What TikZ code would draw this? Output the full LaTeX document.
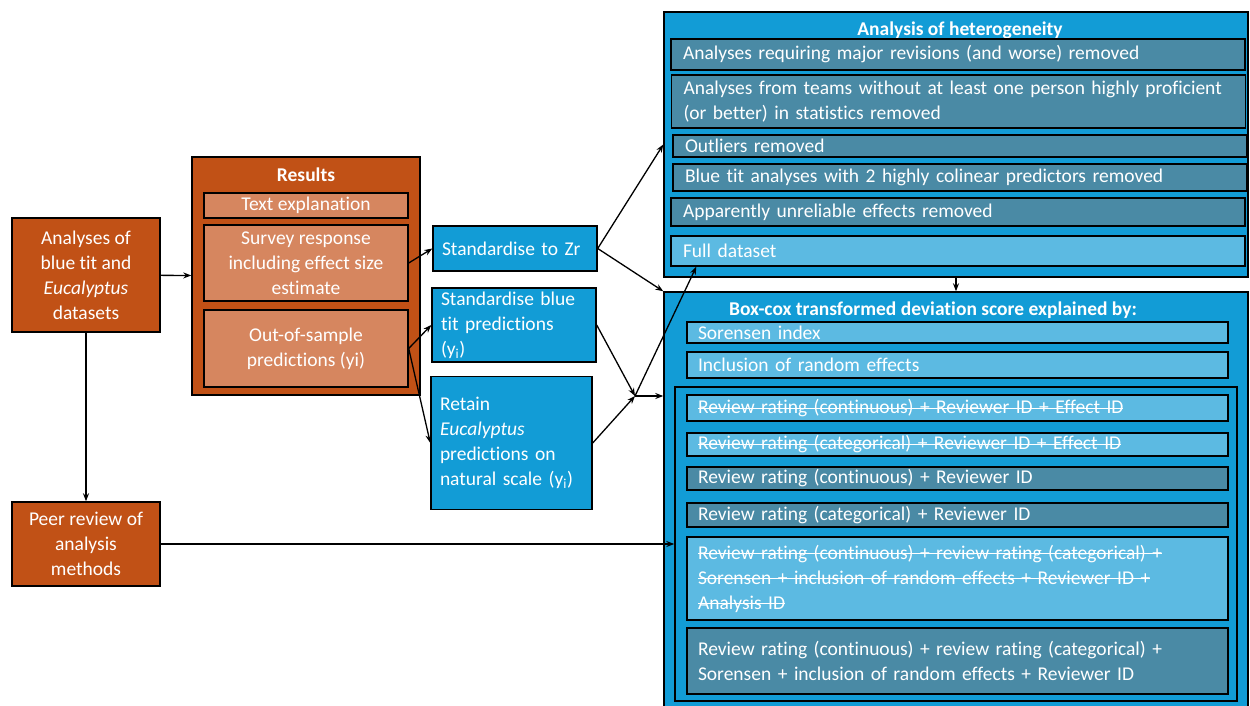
\documentclass[tikz,border=0pt]{standalone}
\usepackage{fontspec}
\setmainfont{Carlito}[Ligatures=NoCommon]
\usetikzlibrary{arrows.meta}
\newsavebox\strikebox
\newcommand{\strikeout}[1]{\sbox\strikebox{#1}\mbox{\rlap{\usebox\strikebox}\rule[0.24em]{\wd\strikebox}{1.1pt}}}
\definecolor{rust}{RGB}{193,81,22}
\definecolor{rustlight}{RGB}{214,134,95}
\definecolor{skyblue}{RGB}{18,156,214}
\definecolor{tealrow}{RGB}{74,138,165}
\definecolor{lightrow}{RGB}{92,186,226}
\tikzset{
  base/.style={draw=black, line width=1.4pt, inner sep=0pt, text=white, font=\fontsize{19.5}{25}\selectfont},
  orangebox/.style={base, fill=rust, align=center},
  resrow/.style={base, fill=rustlight, align=center, minimum width=204},
  bluebox/.style={base, fill=skyblue, align=left},
  hetrow/.style={base, fill=tealrow, minimum width=574, text width=550, align=left},
  bcrow/.style={base, minimum width=541, text width=519, align=left},
  heading/.style={text=white, inner sep=0pt, font=\bfseries\fontsize{19.5}{25}\selectfont},
  arr/.style={->, line width=1.3pt}
}
\begin{document}
\begin{tikzpicture}[x=1pt, y=-1pt, >={Stealth[length=8pt,width=6pt]}]
  \clip (0,0) rectangle (1250,706);
  \fill[white] (0,0) rectangle (1250,706);

  % left column
  \node[orangebox, minimum width=148, minimum height=114] (data) at (86,275)
    {Analyses of\\ blue tit and\\ \textit{Eucalyptus}\\ datasets};
  \node[orangebox, minimum width=148, minimum height=84] (review) at (86,544)
    {Peer review of\\ analysis\\ methods};

  % results
  \node[orangebox, minimum width=228, minimum height=238] (results) at (306,276) {};
  \node[heading] (restitle) at (306,175) {Results};
  \node[resrow, minimum height=25] (textexp) at (306,205.5) {Text explanation};
  \node[resrow, minimum height=76] (survey) at (306,263)
    {Survey response\\ including effect size\\ estimate};
  \node[resrow, minimum height=77] (oos) at (306,348.5)
    {Out-of-sample\\ predictions (yi)};

  % standardisation
  \node[bluebox, minimum width=164, minimum height=45, text width=146] (zr) at (515,248.5)
    {Standardise to Zr};
  \node[bluebox, minimum width=164, minimum height=74, text width=146] (btp) at (514,325)
    {Standardise blue\\ tit predictions\\ (y\textsubscript{i})};
  \node[bluebox, minimum width=161, minimum height=133, text width=143] (ret) at (511.5,443)
    {Retain\\ \textit{Eucalyptus}\\ predictions on\\ natural scale (y\textsubscript{i})};

  % analysis of heterogeneity
  \node[bluebox, minimum width=584, minimum height=265] (het) at (956,144.5) {};
  \node[heading] (hettitle) at (960,30) {Analysis of heterogeneity};
  \node[hetrow, minimum height=31] (h1) at (958,54.5)
    {Analyses requiring major revisions (and worse) removed};
  \node[hetrow, minimum height=53] (h2) at (958.5,101.5)
    {Analyses from teams without at least one person highly proficient\\ (or better) in statistics removed};
  \node[hetrow, minimum height=22] (h3) at (960,146) {Outliers removed};
  \node[hetrow, minimum height=27] (h4) at (960,177.5)
    {Blue tit analyses with 2 highly colinear predictors removed};
  \node[hetrow, minimum height=28] (h5) at (958,212) {Apparently unreliable effects removed};
  \node[hetrow, fill=lightrow, minimum height=30] (h6) at (958,251) {Full dataset};

  % box-cox models
  \node[bluebox, minimum width=584, minimum height=430] (bc) at (956,507) {};
  \node[heading] (bctitle) at (933,310) {Box-cox transformed deviation score explained by:};
  \node[bcrow, fill=lightrow, minimum height=21] (s1) at (957.5,332.5) {Sorensen index};
  \node[bcrow, fill=lightrow, minimum height=26] (s2) at (957.5,365) {Inclusion of random effects};
  \node[bluebox, minimum width=562, minimum height=314] (grp) at (956,544) {};
  \node[bcrow, fill=lightrow, minimum height=26] (r1) at (957.5,408)
    {\strikeout{Review rating (continuous) + Reviewer ID + Effect ID}};
  \node[bcrow, fill=lightrow, minimum height=23] (r2) at (957.5,444.5)
    {\strikeout{Review rating (categorical) + Reviewer ID + Effect ID}};
  \node[bcrow, fill=tealrow, minimum height=23] (r3) at (957.5,478.5)
    {Review rating (continuous) + Reviewer ID};
  \node[bcrow, fill=tealrow, minimum height=24] (r4) at (957.5,515)
    {Review rating (categorical) + Reviewer ID};
  \node[bcrow, fill=lightrow, minimum height=83] (r5) at (957.5,578.5)
    {\strikeout{Review rating (continuous) + review rating (categorical) +}\\
     \strikeout{Sorensen + inclusion of random effects + Reviewer ID +}\\
     \strikeout{Analysis ID}};
  \node[bcrow, fill=tealrow, minimum height=66] (r6) at (957.5,661)
    {Review rating (continuous) + review rating (categorical) +\\
     Sorensen + inclusion of random effects + Reviewer ID};

  % connectors
  \coordinate (jn) at (635,396);
  \draw[arr] (data) -- (results);
  \draw[arr] (data) -- (review);
  \draw[arr] (survey.east) -- (zr.west);
  \draw[arr] (oos.east) -- (btp.west);
  \draw[arr] (oos.east) -- (ret.west);
  \draw[arr] (zr.east) -- (het.west);
  \draw[arr] (zr.east) -- (bc.north west);
  \draw[arr] (btp.east) -- (jn);
  \draw[arr] (ret.east) -- (jn);
  \draw[arr] (jn) -- (jn -| bc.west);
  \draw[arr] (jn) -- ([xshift=26pt]h6.south west);
  \draw[arr] (het.south) -- (het.south |- bc.north);
  \draw[arr] (review) -- (review -| grp.west);
\end{tikzpicture}
\end{document}
